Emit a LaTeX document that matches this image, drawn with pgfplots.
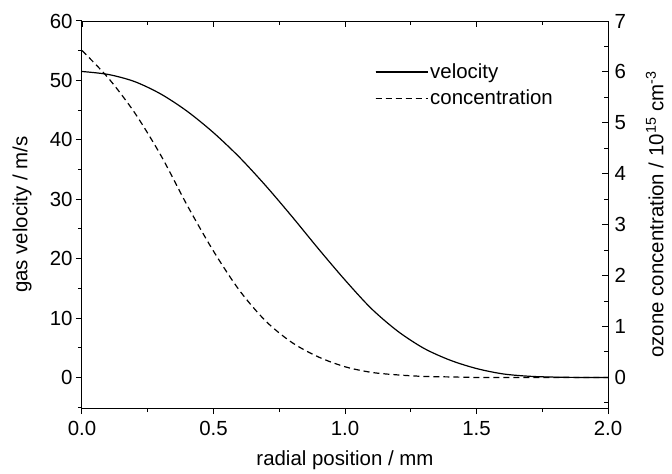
\documentclass[border=0pt]{standalone}
\usepackage{fontspec}
\setmainfont{Liberation Sans}
\usepackage{pgfplots}
\usepackage{pgfplotstable}
\pgfplotsset{compat=1.18}

\pgfplotstableread{
x v
0.0 51.5
0.1 51.0
0.2 49.8
0.3 47.7
0.4 44.8
0.5 41.2
0.6 37.0
0.7 32.2
0.8 27.0
0.9 21.6
1.0 16.4
1.1 11.6
1.2 7.8
1.3 4.9
1.4 2.9
1.5 1.5
1.6 0.6
1.7 0.2
1.8 0.05
1.9 0.0
2.0 0.0
}\veltable

\pgfplotstableread{
x c
0.0 6.42
0.1 5.88
0.2 5.20
0.3 4.36
0.4 3.38
0.5 2.48
0.6 1.70
0.7 1.10
0.8 0.68
0.9 0.40
1.0 0.21
1.1 0.10
1.2 0.05
1.3 0.02
1.4 0.01
1.5 0.0
1.6 0.0
1.7 0.0
1.8 0.0
1.9 0.0
2.0 0.0
}\contable

\newcommand\fs{\fontsize{20.5}{24}\selectfont}

\pgfplotsset{
  common/.style={
    scale only axis, width=526bp, height=387bp,
    xmin=0, xmax=2,
    at={(0,0)}, anchor=south west,
    /pgf/number format/assume math mode=true,
    tick label style={font=\fs},
    label style={font=\fs},
    axis line style={line width=1bp},
    every tick/.style={line width=1bp, black},
    major tick length=6bp, minor tick length=4bp,
    xtick={0,0.5,1,1.5,2},
    minor xtick={0.25,0.75,1.25,1.75},
  }
}

\begin{document}
\begin{tikzpicture}
\begin{axis}[common,
  ymin=-5.142857, ymax=60,
  ytick={0,10,20,30,40,50,60},
  minor ytick={-5,5,15,25,35,45,55},
  axis x line*=bottom, axis y line*=left,
  tick align=outside,
  xticklabel style={yshift=-4bp, /pgf/number format/.cd, fixed, fixed zerofill, precision=1},
  xlabel={radial position / mm},
  ylabel={gas velocity / m/s},
  xlabel style={at={(axis description cs:0.5,-0.134)}, anchor=center},
  ylabel style={at={(axis description cs:-0.114,0.5)}, anchor=center},
]
\addplot[black, line width=1.2bp, smooth] table[x=x,y=v] {\veltable};
\end{axis}
\begin{axis}[common,
  ymin=-0.6, ymax=7,
  ytick={0,1,2,3,4,5,6,7},
  minor ytick={-0.5,0.5,1.5,2.5,3.5,4.5,5.5,6.5},
  axis x line*=top, axis y line*=right,
  tick align=inside,
  xticklabels={},
  yticklabel style={xshift=3bp},
  ylabel={ozone concentration / 10\textsuperscript{15} cm\textsuperscript{-3}},
  ylabel style={at={(axis description cs:1.089,0.5)}, anchor=center},
  legend style={at={(axis description cs:0.551,0.90)}, anchor=north west,
    draw=none, fill=none, font=\fs, row sep=6bp},
  legend cell align=left,
  legend image code/.code={\draw[#1] (0bp,0bp) -- (48bp,0bp); \path (0bp,0bp) -- (52bp,0bp);},
]
\addlegendimage{black, line width=1.2bp}
\addlegendentry{velocity}
\addplot[black, line width=1.2bp, dash pattern=on 6bp off 4bp, smooth] table[x=x,y=c] {\contable};
\addlegendentry{concentration}
\end{axis}
\pgfresetboundingbox
\path (-82bp,-66bp) rectangle (590bp,408bp);
\end{tikzpicture}
\end{document}
